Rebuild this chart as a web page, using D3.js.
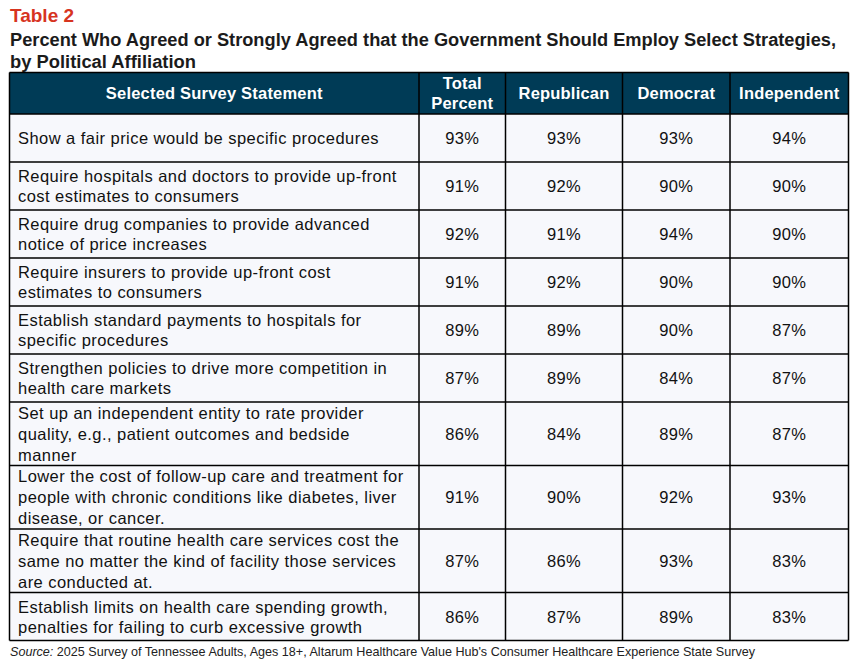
<!DOCTYPE html>
<html><head><meta charset="utf-8">
<script src="https://cdn.jsdelivr.net/npm/d3@7"></script>
<style>
html,body{margin:0;padding:0;background:#fff;}
svg{display:block;}
</style></head>
<body>
<svg id="chart" width="857" height="664"></svg>
<script>
const tableLabel = "Table 2";
const titleLines = [
  "Percent Who Agreed or Strongly Agreed that the Government Should Employ Select Strategies,",
  "by Political Affiliation"
];
const headers = ["Selected Survey Statement", "Total\nPercent", "Republican", "Democrat", "Independent"];
const statements = [
  "Show a fair price would be specific procedures",
  "Require hospitals and doctors to provide up-front\ncost estimates to consumers",
  "Require drug companies to provide advanced\nnotice of price increases",
  "Require insurers to provide up-front cost\nestimates to consumers",
  "Establish standard payments to hospitals for\nspecific procedures",
  "Strengthen policies to drive more competition in\nhealth care markets",
  "Set up an independent entity to rate provider\nquality, e.g., patient outcomes and bedside\nmanner",
  "Lower the cost of follow-up care and treatment for\npeople with chronic conditions like diabetes, liver\ndisease, or cancer.",
  "Require that routine health care services cost the\nsame no matter the kind of facility those services\nare conducted at.",
  "Establish limits on health care spending growth,\npenalties for failing to curb excessive growth"
];
const totalPct      = [93, 91, 92, 91, 89, 87, 86, 91, 87, 86];
const republicanPct = [93, 92, 91, 92, 89, 89, 84, 90, 86, 87];
const democratPct   = [93, 90, 94, 90, 90, 84, 89, 92, 93, 89];
const independentPct= [94, 90, 90, 90, 87, 87, 87, 93, 83, 83];
const sourceLabel = "Source:";
const sourceText = " 2025 Survey of Tennessee Adults, Ages 18+, Altarum Healthcare Value Hub's Consumer Healthcare Experience State Survey";

const svg = d3.select("#chart");
const FONT = "'Liberation Sans', Arial, sans-serif";
const headFill = "#003b56";
const rowFill = "#f7f8fc";

// title
svg.append("text").attr("x", 10).attr("y", 22)
  .attr("font-family", FONT).attr("font-weight", "bold").attr("font-size", 19)
  .attr("fill", "#d7341f").text(tableLabel);
const titleTargets = [826, 186];
titleLines.forEach((t, i) => {
  svg.append("text").attr("x", 10).attr("y", 46 + i * 22)
    .attr("font-family", FONT).attr("font-weight", "bold").attr("font-size", 18)
    .attr("fill", "#1b1b1b")
    .attr("textLength", titleTargets[i]).attr("lengthAdjust", "spacingAndGlyphs")
    .text(t);
});

// columns
const colEdges = [9.5, 419, 505.5, 622.5, 730, 848.5];
const headTop = 72.5, headBottom = 114;
const rows = statements.map((s, i) => ({
  lines: s.split("\n"),
  vals: [totalPct[i], republicanPct[i], democratPct[i], independentPct[i]]
}));
const rowH = n => (n >= 3 ? 63.5 : 48);
let yAcc = headBottom;
rows.forEach(r => { r.y0 = yAcc; r.h = rowH(r.lines.length); yAcc += r.h; });
const tableBottom = yAcc;

// header
svg.append("rect").attr("x", colEdges[0]).attr("y", headTop)
  .attr("width", colEdges[5] - colEdges[0]).attr("height", headBottom - headTop)
  .attr("fill", headFill);
headers.forEach((h, j) => {
  const cx = (colEdges[j] + colEdges[j + 1]) / 2;
  const parts = h.split("\n");
  const cy = (headTop + headBottom) / 2;
  parts.forEach((p, k) => {
    svg.append("text").attr("x", cx)
      .attr("y", cy + (k - (parts.length - 1) / 2) * 20 + 6)
      .attr("text-anchor", "middle")
      .attr("font-family", FONT).attr("font-weight", "bold").attr("font-size", 16.5)
      .attr("letter-spacing", 0.2)
      .attr("fill", "#fff").text(p);
  });
});

// body rows
const g = svg.append("g");
rows.forEach(r => {
  g.append("rect").attr("x", colEdges[0]).attr("y", r.y0)
    .attr("width", colEdges[5] - colEdges[0]).attr("height", r.h).attr("fill", rowFill);
  const lh = r.lines.length >= 3 ? 21 : 20;
  const cy = r.y0 + r.h / 2;
  r.lines.forEach((l, k) => {
    g.append("text").attr("x", 18)
      .attr("y", cy + (k - (r.lines.length - 1) / 2) * lh + 6)
      .attr("font-family", FONT).attr("font-size", 16.5).attr("fill", "#111")
      .attr("letter-spacing", 0.45)
      .text(l);
  });
  r.vals.forEach((v, j) => {
    g.append("text").attr("x", (colEdges[j + 1] + colEdges[j + 2]) / 2)
      .attr("y", cy + 6).attr("text-anchor", "middle")
      .attr("font-family", FONT).attr("font-size", 16.5).attr("fill", "#111")
      .attr("letter-spacing", 0.3)
      .text(v + "%");
  });
});

// grid lines
const lines = svg.append("g").attr("stroke", "#000").attr("stroke-width", 1.5).attr("fill", "none");
colEdges.forEach(x => lines.append("line").attr("x1", x).attr("x2", x).attr("y1", headTop).attr("y2", tableBottom));
[headTop, headBottom].concat(rows.map(r => r.y0 + r.h)).forEach(y =>
  lines.append("line").attr("x1", colEdges[0]).attr("x2", colEdges[5]).attr("y1", y).attr("y2", y));

// source
const src = svg.append("text").attr("x", 10).attr("y", 656)
  .attr("font-family", "'Liberation Sans Narrow', 'Arial Narrow', sans-serif")
  .attr("font-size", 13).attr("fill", "#222")
  .attr("textLength", 745).attr("lengthAdjust", "spacingAndGlyphs");
src.append("tspan").attr("font-style", "italic").text(sourceLabel);
src.append("tspan").text(sourceText);
</script>
</body></html>
